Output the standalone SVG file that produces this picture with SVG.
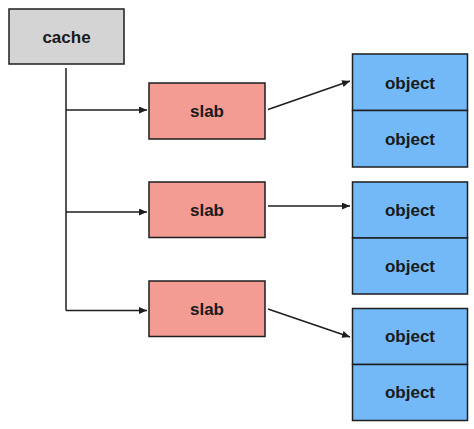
<svg xmlns="http://www.w3.org/2000/svg" width="474" height="429" viewBox="0 0 474 429">
<style>
.box{stroke:#1e1e1e;stroke-width:1.5}
.cache{fill:#d4d4d4}
.slab{fill:#f29c94}
.obj{fill:#73b9f8}
.lbl{font-family:"Liberation Sans",Arial,sans-serif;font-size:17px;font-weight:bold;fill:#1a1a1a;text-anchor:middle;dominant-baseline:central}
.edge{stroke:#1e1e1e;stroke-width:1.5;fill:none}
</style>
<defs>
<marker id="ah" viewBox="0 0 10 10" refX="10" refY="5" markerWidth="8" markerHeight="7" markerUnits="userSpaceOnUse" orient="auto" preserveAspectRatio="none">
<path d="M0,0 L10,5 L0,10 z" fill="#1e1e1e"/>
</marker>
</defs>
<g id="cache"><rect class="box cache" x="9" y="9" width="115" height="55"/><text class="lbl" x="66.5" y="37">cache</text></g>
<g id="slab1"><rect class="box slab" x="149" y="83" width="116" height="56"/><text class="lbl" x="207" y="111">slab</text></g>
<g id="slab2"><rect class="box slab" x="149" y="182" width="116" height="55.5"/><text class="lbl" x="207" y="210">slab</text></g>
<g id="slab3"><rect class="box slab" x="149" y="281" width="116" height="55.5"/><text class="lbl" x="207" y="309">slab</text></g>
<g id="object1a"><rect class="box obj" x="352.5" y="54" width="115" height="56.5"/><text class="lbl" x="410" y="83">object</text></g>
<g id="object1b"><rect class="box obj" x="352.5" y="110.5" width="115" height="56.5"/><text class="lbl" x="410" y="139">object</text></g>
<g id="object2a"><rect class="box obj" x="352.5" y="182" width="115" height="56"/><text class="lbl" x="410" y="210">object</text></g>
<g id="object2b"><rect class="box obj" x="352.5" y="238" width="115" height="56"/><text class="lbl" x="410" y="266">object</text></g>
<g id="object3a"><rect class="box obj" x="352.5" y="308.5" width="115" height="56"/><text class="lbl" x="410" y="336.5">object</text></g>
<g id="object3b"><rect class="box obj" x="352.5" y="364.5" width="115" height="56"/><text class="lbl" x="410" y="392.5">object</text></g>
<g id="connectors">
<path class="edge" d="M66,68 V310.5"/>
<path class="edge" d="M66,110 H147" marker-end="url(#ah)"/>
<path class="edge" d="M66,212 H147" marker-end="url(#ah)"/>
<path class="edge" d="M66,310.5 H147" marker-end="url(#ah)"/>
<path class="edge" d="M268,109.5 L350,81" marker-end="url(#ah)"/>
<path class="edge" d="M268,206 H350" marker-end="url(#ah)"/>
<path class="edge" d="M268,309 L350,337" marker-end="url(#ah)"/>
</g>
</svg>
